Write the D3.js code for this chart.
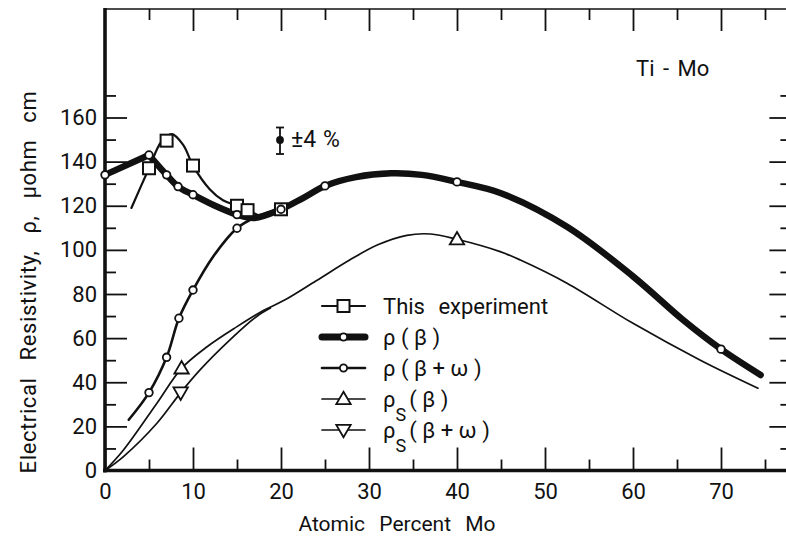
<!DOCTYPE html>
<html>
<head>
<meta charset="utf-8">
<script src="https://cdnjs.cloudflare.com/ajax/libs/d3/7.8.5/d3.min.js"></script>
<style>
  body { margin: 0; background: #fff; }
  text { font-family: Roboto, "Open Sans", sans-serif; font-weight: 400; fill: #111; }
</style>
</head>
<body>
<div id="chart"></div>
<script>
// values: x = atomic % Mo, y = resistivity (µohm cm)
const xMajorTicks = [0, 10, 20, 30, 40, 50, 60, 70];
const xMinorTicks = [5, 15, 25, 35, 45, 55, 65, 75];
const yMajorTicks = [0, 20, 40, 60, 80, 100, 120, 140, 160];
const yMinorTicks = [10, 30, 50, 70, 90, 110, 130, 150, 170];

// "This experiment"
const expPoints = [[5, 137], [7, 149.5], [10, 138.2], [15, 120], [16.2, 118], [20, 118.4]];
const expCurve = [[3, 119], [5, 137], [6.4, 149], [7.6, 152.5], [8.9, 147.5], [10, 138.2], [11.9, 127.5],
                  [13.4, 122.5], [15, 120], [16.2, 118], [17.5, 115.5]];

// rho(beta) - heavy curve
const rhoBetaPoints = [[0, 134], [5, 143], [7, 134], [8.3, 128.7], [10, 125], [15, 116], [20, 118.4],
                       [25, 129], [40, 130.8], [70, 55]];
const rhoBetaRise = [[0, 134], [5, 143]];
const rhoBetaCurve = [[5, 143], [7, 134], [8.3, 128.7], [10, 125], [12.5, 120], [15, 116], [17, 114.5],
                      [20, 118.4], [22.5, 123.5], [25, 129], [28.5, 133], [32.5, 134.7], [36, 134],
                      [40, 130.8], [45, 125.7], [52.5, 110.5], [60, 88], [65.7, 68.2], [70, 55], [74.5, 43.3]];

// rho(beta + omega)
const rhoBetaOmegaPoints = [[5, 35.3], [7, 51.3], [8.4, 69], [10, 81.8], [15, 109.8]];
const rhoBetaOmegaCurve = [[2.7, 23], [5, 35.3], [7, 51.3], [8.4, 69], [10, 81.8], [12.3, 97],
                           [15, 109.8], [17.5, 115.5], [20, 118.4]];

// rho_S(beta)
const rhoSBetaPoints = [[8.7, 46.3], [40, 104.8]];
const rhoSBetaCurve = [[0, 0], [2.1, 9.3], [5.9, 30.5], [8.7, 46.3], [11.6, 56.1], [15, 65.2], [18, 72.5],
                       [20.3, 77], [24, 86], [27.8, 95.4], [31, 102.3], [34.3, 106.6], [37, 107.2],
                       [40, 104.8], [44.9, 99.2], [47.2, 95.4], [52.5, 84.9], [60, 66.7], [67.6, 50.1], [74.2, 37.3]];

// rho_S(beta + omega)
const rhoSBetaOmegaPoints = [[8.6, 35.3]];
const rhoSBetaOmegaCurve = [[0, 0], [2.1, 6.3], [5.9, 21.4], [8.6, 35.3], [10.8, 45.6], [14.2, 59.2],
                            [17.2, 69.7], [18.8, 73.6]];

const legendItems = [
  { main: "This experiment", sub: "", rest: "", marker: "square", width: 2.2, gap: 8 },
  { main: "ρ ( β )", sub: "", rest: "", marker: "circle", width: 7, gap: 0 },
  { main: "ρ ( β + ω )", sub: "", rest: "", marker: "circle", width: 2.6, gap: 0 },
  { main: "ρ", sub: "S", rest: "( β )", marker: "up", width: 1.7, gap: 0 },
  { main: "ρ", sub: "S", rest: "( β + ω )", marker: "down", width: 1.7, gap: 0 }
];

const width = 786, height = 540;

const svg = d3.select("#chart").append("svg")
  .attr("width", width)
  .attr("height", height);

const x = d3.scaleLinear().domain([0, 78]).range([105, 105 + 78 * 8.8]);
const y = d3.scaleLinear().domain([0, 160]).range([470.5, 117.5]);
const yTop = 9;

// ---- axes (ticks point inward, long = major, short = minor)
function styleAxis(g) {
  g.select(".domain").remove();
  g.selectAll(".tick line").attr("stroke", "#111").attr("stroke-width", 1.8);
  g.selectAll(".tick text").style("font-size", "22px").attr("fill", "#111");
}

svg.append("g").attr("transform", `translate(0,${y(0)})`)
  .call(d3.axisBottom(x).tickValues(xMajorTicks).tickSize(-23).tickPadding(9).tickFormat(d3.format("d")))
  .call(styleAxis)
  .selectAll(".tick text").attr("dy", "0.9em");
svg.append("g").attr("transform", `translate(0,${y(0)})`)
  .call(d3.axisBottom(x).tickValues(xMinorTicks).tickSize(-11).tickFormat(""))
  .call(styleAxis);

svg.append("g").attr("transform", `translate(0,${yTop})`)
  .call(d3.axisTop(x).tickValues(xMajorTicks.slice(1)).tickSize(-22).tickFormat(""))
  .call(styleAxis);
svg.append("g").attr("transform", `translate(0,${yTop})`)
  .call(d3.axisTop(x).tickValues(xMinorTicks).tickSize(-11).tickFormat(""))
  .call(styleAxis);

svg.append("g").attr("transform", `translate(${x(0)},0)`)
  .call(d3.axisLeft(y).tickValues(yMajorTicks).tickSize(-22).tickPadding(8).tickFormat(d3.format("d")))
  .call(styleAxis);
svg.append("g").attr("transform", `translate(${x(0)},0)`)
  .call(d3.axisLeft(y).tickValues(yMinorTicks).tickSize(-11).tickFormat(""))
  .call(styleAxis);

svg.append("g").attr("transform", `translate(${x(78)},0)`)
  .call(d3.axisRight(y).tickValues(yMajorTicks.slice(1)).tickSize(-22).tickFormat(""))
  .call(styleAxis);
svg.append("g").attr("transform", `translate(${x(78)},0)`)
  .call(d3.axisRight(y).tickValues(yMinorTicks).tickSize(-11).tickFormat(""))
  .call(styleAxis);

// frame lines
svg.append("line").attr("x1", x(0)).attr("x2", width).attr("y1", yTop).attr("y2", yTop)
  .attr("stroke", "#111").attr("stroke-width", 1.6);
svg.append("line").attr("x1", x(0)).attr("x2", x(0)).attr("y1", yTop - 1).attr("y2", y(0) + 2)
  .attr("stroke", "#111").attr("stroke-width", 3.6);
svg.append("line").attr("x1", x(0) - 2).attr("x2", width).attr("y1", y(0)).attr("y2", y(0))
  .attr("stroke", "#111").attr("stroke-width", 3.6);

// ---- axis titles
svg.append("text")
  .attr("x", 397).attr("y", 531)
  .attr("text-anchor", "middle")
  .style("font-size", "21px")
  .style("word-spacing", "9px")
  .text("Atomic Percent Mo");

svg.append("text")
  .attr("transform", "translate(36,282) rotate(-90)")
  .attr("text-anchor", "middle")
  .style("font-size", "22px")
  .style("word-spacing", "11px")
  .style("letter-spacing", "0.6px")
  .text("Electrical Resistivity, ρ, μohm cm");

// ---- curves
const line = d3.line().x(d => x(d[0])).y(d => y(d[1])).curve(d3.curveCatmullRom.alpha(0.5));
const straight = d3.line().x(d => x(d[0])).y(d => y(d[1]));

const plot = svg.append("g").attr("fill", "none").attr("stroke", "#111")
  .attr("stroke-linecap", "round").attr("stroke-linejoin", "round");

plot.append("path").attr("d", line(rhoSBetaCurve)).attr("stroke-width", 1.7);
plot.append("path").attr("d", line(rhoSBetaOmegaCurve)).attr("stroke-width", 1.7);
plot.append("path").attr("d", line(rhoBetaOmegaCurve)).attr("stroke-width", 2.6);
plot.append("path").attr("d", line(expCurve)).attr("stroke-width", 2.2);
plot.append("path").attr("d", straight(rhoBetaRise)).attr("stroke-width", 6.5);
plot.append("path").attr("d", line(rhoBetaCurve)).attr("stroke-width", 6.5);

// ---- markers
const triUp = d3.symbol().type(d3.symbolTriangle).size(90);

function drawSquare(g, px, py, s) {
  g.append("rect").attr("x", px - s / 2).attr("y", py - s / 2).attr("width", s).attr("height", s)
    .attr("fill", "#fff").attr("stroke", "#111").attr("stroke-width", 2);
}
function drawCircle(g, px, py, r) {
  g.append("circle").attr("cx", px).attr("cy", py).attr("r", r)
    .attr("fill", "#fff").attr("stroke", "#111").attr("stroke-width", 1.8);
}
function drawTri(g, px, py, down) {
  g.append("path").attr("d", triUp())
    .attr("transform", `translate(${px},${py + (down ? -1 : 1)}) rotate(${down ? 180 : 0})`)
    .attr("fill", "#fff").attr("stroke", "#111").attr("stroke-width", 1.8);
}

const marks = svg.append("g");
expPoints.forEach(d => drawSquare(marks, x(d[0]), y(d[1]), 12));
rhoBetaPoints.forEach(d => drawCircle(marks, x(d[0]), y(d[1]), 3.8));
rhoBetaOmegaPoints.forEach(d => drawCircle(marks, x(d[0]), y(d[1]), 3.8));
rhoSBetaPoints.forEach(d => drawTri(marks, x(d[0]), y(d[1]), false));
rhoSBetaOmegaPoints.forEach(d => drawTri(marks, x(d[0]), y(d[1]), true));

// ---- legend
const legend = svg.append("g").attr("transform", "translate(322,306)");
legendItems.forEach((d, i) => {
  const row = legend.append("g").attr("transform", `translate(0,${i * 31})`);
  row.append("line").attr("x1", 0).attr("x2", 43).attr("y1", 0).attr("y2", 0)
    .attr("stroke", "#111").attr("stroke-width", d.width).attr("stroke-linecap", "round");
  if (d.marker === "square") drawSquare(row, 21.5, 0, 12);
  else if (d.marker === "circle") drawCircle(row, 21.5, 0, 3.6);
  else drawTri(row, 21.5, 0, d.marker === "down");

  const t = row.append("text").attr("x", 61).attr("y", 8)
    .style("font-size", "22px").style("word-spacing", d.gap + "px");
  t.append("tspan").text(d.main);
  if (d.sub) {
    t.append("tspan").attr("dy", 14).style("font-size", "18px").text(d.sub);
    t.append("tspan").attr("dy", -14).attr("dx", 3).text(d.rest);
  }
});

// ---- annotations
const eb = svg.append("g").attr("stroke", "#111").attr("stroke-width", 1.8);
eb.append("line").attr("x1", 280).attr("x2", 280).attr("y1", 127.5).attr("y2", 154);
eb.append("line").attr("x1", 276).attr("x2", 284).attr("y1", 127.5).attr("y2", 127.5);
eb.append("line").attr("x1", 276).attr("x2", 284).attr("y1", 154).attr("y2", 154);
eb.append("circle").attr("cx", 280).attr("cy", 140).attr("r", 3).attr("fill", "#111");

svg.append("text").attr("x", 291).attr("y", 147).style("font-size", "23px")
  .style("word-spacing", "1px").text("±4 %");
svg.append("text").attr("x", 636).attr("y", 76).style("font-size", "22px")
  .style("word-spacing", "3px").text("Ti - Mo");
</script>
</body>
</html>
